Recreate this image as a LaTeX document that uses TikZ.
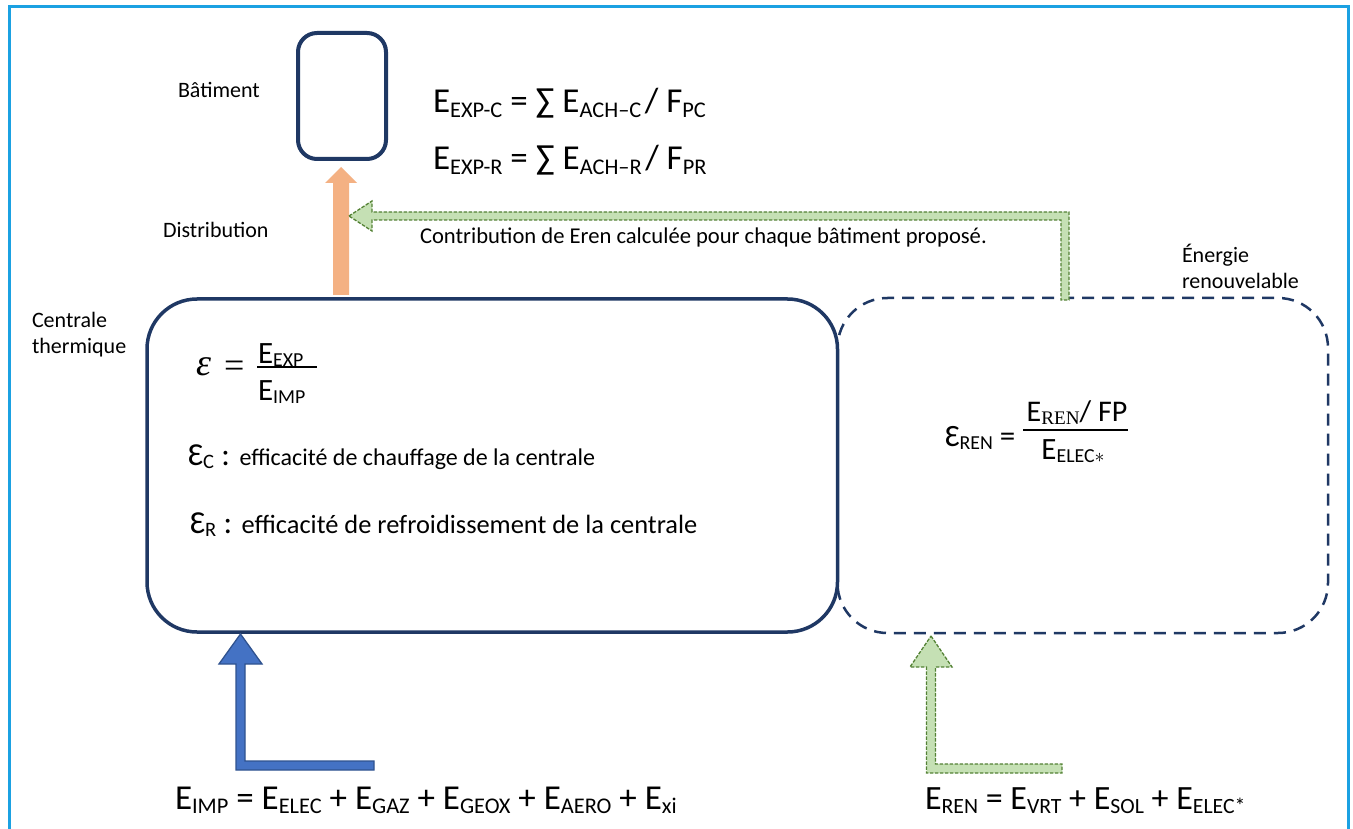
\RequirePackage{fix-cm}
\documentclass[tikz,border=0pt]{standalone}
\usepackage{fontspec}
\setmainfont{Carlito}
\newfontfamily\serifR{Liberation Serif}
\definecolor{frameblue}{HTML}{1BA1E2}
\definecolor{navy}{HTML}{1F3864}
\definecolor{orangeA}{HTML}{F4B183}
\definecolor{blueA}{HTML}{4472C4}
\definecolor{blueB}{HTML}{2F528F}
\definecolor{greenA}{HTML}{C5E0B4}
\definecolor{greenB}{HTML}{548235}
\newcommand\sbs[1]{\raisebox{-0.12em}{\scalebox{0.64}{#1}}}
\newcommand\fs[1]{\fontsize{#1}{#1}\selectfont}
\begin{document}
\begin{tikzpicture}[x=1pt,y=-1pt,
  txt/.style={inner sep=0pt, outer sep=0pt, anchor=base west},
  lbl/.style={txt, font=\fs{22}},
  solidbox/.style={draw=navy, line width=3.5pt, rounded corners=50pt},
  dashbox/.style={draw=navy, line width=2.5pt, dash pattern=on 12pt off 8pt, rounded corners=50pt},
  greenarrow/.style={fill=greenA, draw=greenB, line width=1.3pt, dash pattern=on 3.5pt off 1.5pt},
  bluearrow/.style={fill=blueA, draw=blueB, line width=1.3pt},
  ]
\useasboundingbox (0,0) rectangle (1353,829);
\fill[white] (0,0) rectangle (1353,829);
\draw[frameblue, line width=3pt] (9,860) -- (9,7) -- (1348,7) -- (1348,860);

% boxes
\draw[dashbox] (837.5,298) rectangle (1328,633);
\draw[solidbox] (147,299) rectangle (837.5,632);
\draw[navy, line width=4pt, rounded corners=19pt] (298,33) rectangle (386,159);

% arrows
\fill[orangeA] (333,295) -- (333,183) -- (325,183) -- (341,167) -- (357,183) -- (349,183) -- (349,295) -- cycle;
\draw[greenarrow] (349,216) -- (372,201) -- (372,212) -- (1069,212) -- (1069,300) -- (1061,300) -- (1061,220) -- (372,220) -- (372,231) -- cycle;
\draw[greenarrow] (931,636) -- (952,667) -- (935.5,667) -- (935.5,764) -- (1062,764) -- (1062,773) -- (926.5,773) -- (926.5,667) -- (910,667) -- cycle;
\draw[bluearrow] (240.5,634) -- (262,664) -- (245,664) -- (245,761) -- (374,761) -- (374,770) -- (236,770) -- (236,664) -- (219,664) -- cycle;

% labels
\node[lbl] (bat) at (178,98) {Bâtiment};
\node[lbl] (dist) at (163,238) {Distribution};
\node[txt, font=\fs{22.6}] (contrib) at (420,244) {Contribution de Eren calculée pour chaque bâtiment proposé.};
\node[lbl] (cent1) at (32,327) {Centrale};
\node[lbl] (cent2) at (32,353) {thermique};
\node[lbl] (en1) at (1182,263) {Énergie};
\node[lbl] (en2) at (1182,289) {renouvelable};

% top equations
\node[txt, font=\fs{35}] (eqc) at (433,113) {E\sbs{EXP-C} = ∑ E\sbs{ACH–C}\hspace{0.1em}/ F\sbs{PC}};
\node[txt, font=\fs{35}] (eqr) at (433,170) {E\sbs{EXP-R} = ∑ E\sbs{ACH–R}\hspace{0.1em}/ F\sbs{PR}};

% efficiency fraction
\node[txt, font=\fs{38}\serifR\itshape] (epsA) at (196,375) {ε};
\node[txt, font=\fs{36}\serifR] (eqA) at (224,377) {=};
\draw[line width=2.5pt] (257,367) -- (317,367);
\node[txt, font=\fs{31}] (num) at (258,363) {E\sbs{EXP}};
\node[txt, font=\fs{31}] (den) at (258,400) {E\sbs{IMP}};

\node[txt, font=\fs{32}] (epsC) at (188,465) {Ɛ\sbs{C} : {\fs{24}efficacité de chauffage de la centrale}};
\node[txt, font=\fs{32}] (epsR) at (190,533) {Ɛ\sbs{R} : {\fs{26.4}efficacité de refroidissement de la centrale}};

% renewable efficiency
\node[txt, font=\fs{31}] (epsREN) at (945,446) {Ɛ\sbs{REN} =};
\draw[line width=2.5pt] (1023,430) -- (1128,430);
\node[txt, font=\fs{30}, anchor=base] (numR) at (1077,421) {E\sbs{\serifR REN}/ FP};
\node[txt, font=\fs{31}, anchor=base] (denR) at (1073,459) {E\sbs{ELEC$\ast$}};

% bottom equations
\node[txt, font=\fs{35}] (eimp) at (175,809) {E\sbs{IMP} = E\sbs{ELEC} + E\sbs{GAZ} + E\sbs{GEOX} + E\sbs{AERO} + E\sbs{xi}};
\node[txt, font=\fs{34}] (eren) at (925,809) {E\sbs{REN} = E\sbs{VRT} + E\sbs{SOL} + E\sbs{ELEC*}};
\end{tikzpicture}
\end{document}
